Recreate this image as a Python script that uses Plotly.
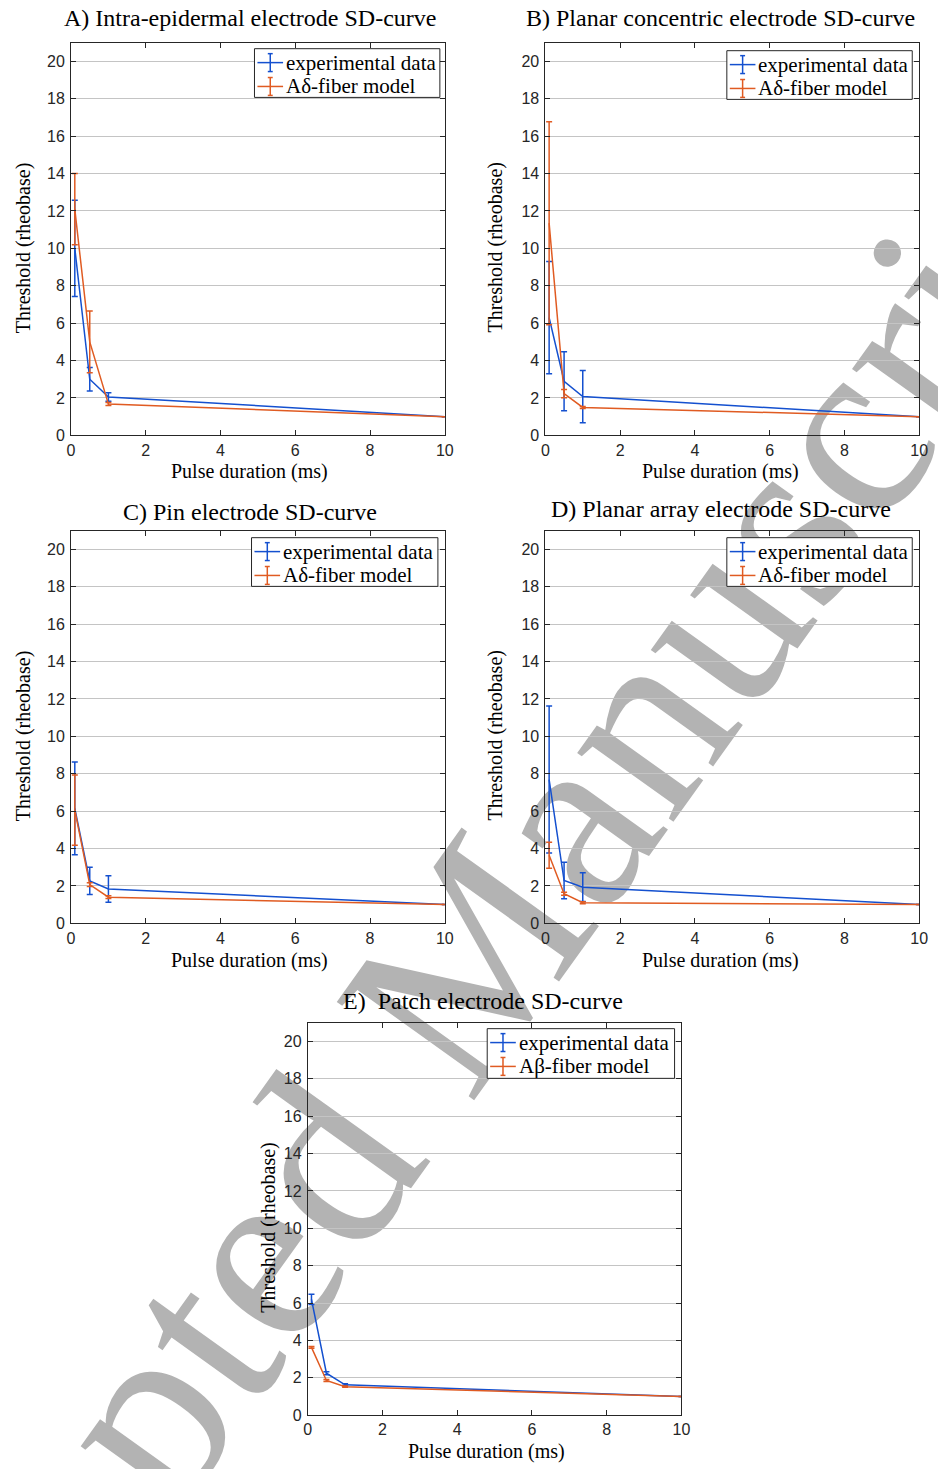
import plotly.graph_objects as go

# ---------------- data ----------------
pulse_ms = [0.1, 0.5, 1, 10]

panel_titles = [
    "A) Intra-epidermal electrode SD-curve",
    "B) Planar concentric electrode SD-curve",
    "C) Pin electrode SD-curve",
    "D) Planar array electrode SD-curve",
    "E)  Patch electrode SD-curve",
]
exp_name = "experimental data"
model_names = ["A\u03b4-fiber model", "A\u03b4-fiber model", "A\u03b4-fiber model",
               "A\u03b4-fiber model", "A\u03b2-fiber model"]

exp_A = [10.0, 3.0, 2.05, 1.0]
exp_A_err = [2.58, 0.63, 0.23, None]
mod_A = [12.1, 5.0, 1.67, 1.0]
mod_A_err = [1.9, 1.65, 0.08, None]

exp_B = [6.3, 2.89, 2.07, 1.0]
exp_B_err = [3.0, 1.58, 1.4, None]
mod_B = [11.35, 2.23, 1.49, 1.0]
mod_B_err = [5.43, 0.22, 0.05, None]

exp_C = [6.15, 2.27, 1.84, 1.0]
exp_C_err = [2.48, 0.73, 0.71, None]
mod_C = [6.05, 2.07, 1.4, 1.0]
mod_C_err = [1.88, 0.1, 0.07, None]

exp_D = [7.69, 2.29, 1.93, 1.0]
exp_D_err = [3.93, 0.97, 0.77, None]
mod_D = [3.64, 1.58, 1.1, 1.0]
mod_D_err = [0.69, 0.08, 0.05, None]

exp_E = [6.2, 2.25, 1.63, 1.0]
exp_E_err = [0.28, 0.08, 0.05, None]
mod_E = [3.63, 1.86, 1.53, 1.0]
mod_E_err = [0.05, 0.05, 0.03, None]

x_ticks = [0, 2, 4, 6, 8, 10]
y_ticks = [0, 2, 4, 6, 8, 10, 12, 14, 16, 18, 20]

exp_series = [exp_A, exp_B, exp_C, exp_D, exp_E]
exp_errs = [exp_A_err, exp_B_err, exp_C_err, exp_D_err, exp_E_err]
mod_series = [mod_A, mod_B, mod_C, mod_D, mod_E]
mod_errs = [mod_A_err, mod_B_err, mod_C_err, mod_D_err, mod_E_err]

# ---------------- layout geometry (pixels) ----------------
W, H = 938, 1469
BLUE = "#1450cf"
ORANGE = "#e05b22"
AX = "#262626"
SERIF = "Liberation Serif, Times New Roman, serif"
SANS = "Liberation Sans, Arial, sans-serif"

# (left, right, top, bottom) of each axes box in px
boxes = [(68, 447, 43, 438), (549, 928, 43, 438),
         (68, 447, 534, 929), (549, 928, 534, 929),
         (308, 687, 1029, 1424)]
title_pos = [(249, 18), (727, 18), (249, 515), (727, 512), (486, 1007)]
xlab_pos = [(249, 474), (727, 474), (249, 966), (727, 966), (489, 1460)]
ylab_pos = [(20, 249), (498, 249), (20, 740), (498, 740), (268, 1235)]
# legend boxes (left, top, right, bottom)
legend_boxes = [(254, 49, 442, 98), (733, 51, 921, 100),
                (251, 541, 440, 590), (733, 541, 921, 590),
                (490, 1035, 680, 1085)]


def px(x):
    return x / W


def py(y):
    return 1 - y / H


fig = go.Figure()
layout = {}
annotations = []
shapes = []


def seg(x0, y0, x1, y1, color, width=1.5):
    shapes.append(dict(type="line", xref="paper", yref="paper",
                       x0=px(x0), y0=py(y0), x1=px(x1), y1=py(y1),
                       line=dict(color=color, width=width), layer="above"))


for i in range(5):
    n = i + 1
    xa = "x" if n == 1 else f"x{n}"
    ya = "y" if n == 1 else f"y{n}"

    fig.add_trace(go.Scatter(
        x=pulse_ms, y=exp_series[i], mode="lines",
        line=dict(color=BLUE, width=1.5),
        error_y=dict(type="data", array=exp_errs[i], color=BLUE, thickness=1.5, width=3),
        xaxis=xa, yaxis=ya, showlegend=False, name=exp_name))
    fig.add_trace(go.Scatter(
        x=pulse_ms, y=mod_series[i], mode="lines",
        line=dict(color=ORANGE, width=1.5),
        error_y=dict(type="data", array=mod_errs[i], color=ORANGE, thickness=1.5, width=3),
        xaxis=xa, yaxis=ya, showlegend=False, name=model_names[i]))

    l, r, t, b = boxes[i]
    layout[f"xaxis{'' if n == 1 else n}"] = dict(
        domain=[px(l), px(r)], anchor=ya, range=[0, 10], tickvals=x_ticks,
        showline=True, linecolor=AX, linewidth=1, mirror="ticks",
        ticks="inside", ticklen=5, tickcolor=AX, showgrid=False, zeroline=False,
        tickfont=dict(family=SANS, size=16, color=AX), fixedrange=True)
    layout[f"yaxis{'' if n == 1 else n}"] = dict(
        domain=[py(b), py(t)], anchor=xa, range=[0, 21], tickvals=y_ticks,
        showline=True, linecolor=AX, linewidth=1, mirror="ticks",
        ticks="inside", ticklen=5, tickcolor=AX, showgrid=True,
        gridcolor="#c4c4c4", gridwidth=1, zeroline=False,
        ticklabelstandoff=2,
        tickfont=dict(family=SANS, size=16, color=AX), fixedrange=True)

    # manual legend (box + error-bar glyph + label)
    lx0, ly0, lx1, ly1 = legend_boxes[i]
    shapes.append(dict(type="rect", xref="paper", yref="paper",
                       x0=px(lx0), y0=py(ly1), x1=px(lx1), y1=py(ly0),
                       line=dict(color=AX, width=1), fillcolor="white", layer="above"))
    for k, (name, col) in enumerate(((exp_name, BLUE), (model_names[i], ORANGE))):
        yr = ly0 + 14 + 24 * k
        cx = lx0 + 16
        seg(lx0 + 3, yr, lx0 + 29, yr, col)
        seg(cx, yr - 9, cx, yr + 9, col)
        seg(cx - 2.5, yr - 9, cx + 2.5, yr - 9, col)
        seg(cx - 2.5, yr + 9, cx + 2.5, yr + 9, col)
        annotations.append(dict(
            text=name, x=px(lx0 + 30), y=py(yr), xref="paper", yref="paper",
            xanchor="left", yanchor="middle", showarrow=False,
            font=dict(family=SERIF, size=21, color="black")))

    tx, ty = title_pos[i]
    annotations.append(dict(
        text=panel_titles[i], x=px(tx), y=py(ty), xref="paper", yref="paper",
        xanchor="center", yanchor="middle", showarrow=False,
        font=dict(family=SERIF, size=24, color="black")))
    xx, xy = xlab_pos[i]
    annotations.append(dict(
        text="Pulse duration (ms)", x=px(xx), y=py(xy), xref="paper", yref="paper",
        xanchor="center", yanchor="middle", showarrow=False,
        font=dict(family=SERIF, size=20, color="black")))
    yx, yy = ylab_pos[i]
    annotations.append(dict(
        text="Threshold (rheobase)", x=px(yx), y=py(yy), xref="paper", yref="paper",
        xanchor="center", yanchor="middle", showarrow=False, textangle=-90,
        font=dict(family=SERIF, size=20, color="black")))

# watermark (drawn underneath the axes)
wm_cx, wm_cy, wm_ang = 418, 990, 54.4
shapes.append(dict(
    type="line", xref="paper", yref="paper",
    x0=px(wm_cx - 175), y0=py(wm_cy + 244), x1=px(wm_cx + 175), y1=py(wm_cy - 244),
    line=dict(color="rgba(0,0,0,0)", width=1), layer="below",
    label=dict(text="Accepted Manuscript",
               font=dict(family=SERIF, size=258, color="#b3b3b3"),
               textangle=-wm_ang, textposition="middle",
               xanchor="center", yanchor="middle", padding=0)))

fig.update_layout(
    width=W, height=H, autosize=False,
    margin=dict(l=0, r=0, t=0, b=0),
    paper_bgcolor="white", plot_bgcolor="rgba(0,0,0,0)",
    annotations=annotations, shapes=shapes, **layout)

fig.write_html(
    "out.html",
    config={"displayModeBar": False},
    post_script="document.body.style.margin='0';document.body.style.overflow='hidden';")
